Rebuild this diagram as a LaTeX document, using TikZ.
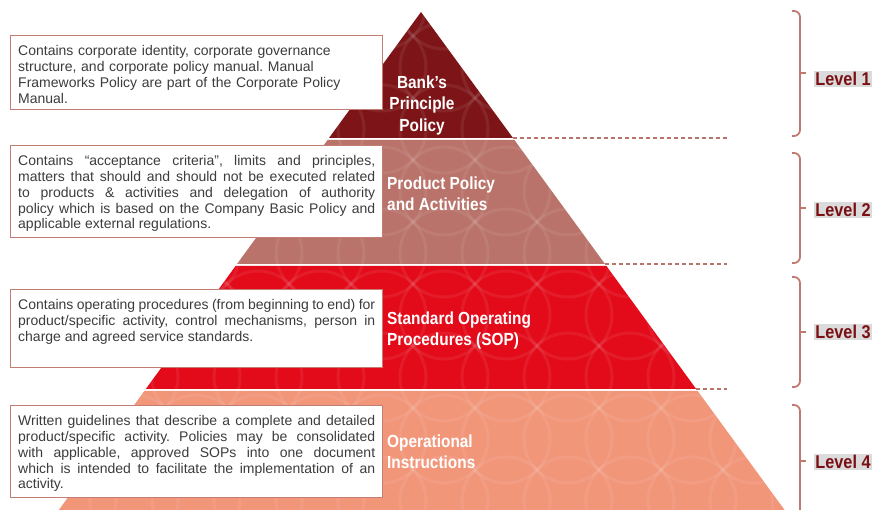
\documentclass[tikz,border=0pt]{standalone}
\usepackage{fontspec}
\setmainfont{Liberation Sans}
\newfontfamily\condfont[FakeStretch=0.88]{Liberation Sans}
\definecolor{lvone}{HTML}{7D1518}
\definecolor{lvtwo}{HTML}{B9736A}
\definecolor{lvthree}{HTML}{E30B1A}
\definecolor{lvfour}{HTML}{F2967A}
\definecolor{boxline}{HTML}{C47D73}
\definecolor{bracec}{HTML}{C07870}
\definecolor{dashc}{HTML}{B8736A}
\definecolor{bodytext}{HTML}{3C3C3C}
\definecolor{lvtext}{HTML}{7A1014}
\frenchspacing
\tikzset{
  descbox/.style={draw=boxline, fill=white, line width=0.9pt, minimum width=372pt,
    minimum height=#1, anchor=north west, inner sep=0pt},
  desctext/.style={anchor=north west, inner sep=0pt, text width=357pt,
    font=\fontsize{14}{15.8}\selectfont, text=bodytext},
  pyrlabel/.style={inner sep=0pt, text=white,
    font=\condfont\bfseries\fontsize{17.5}{21.5}\selectfont},
  lvlabel/.style={inner sep=1.3pt, fill=black!14, text=lvtext,
    font=\condfont\bfseries\fontsize{18.5}{20}\selectfont},
  bracket/.style={draw=bracec, line width=1.8pt, rounded corners=6pt},
  levelsep/.style={draw=dashc, line width=2pt, dash pattern=on 4pt off 3pt},
  patt/.style={draw=white, opacity=0.07, line width=3pt}
}
\begin{document}
\begin{tikzpicture}[x=1pt,y=-1pt]
\useasboundingbox (0,0) rectangle (876,510);
% pyramid corners
\coordinate (apex) at (421,12);
\coordinate (l1bl) at (329,138);   \coordinate (l1br) at (513,138);
\coordinate (l2tl) at (327.6,140); \coordinate (l2tr) at (514.4,140);
\coordinate (l2bl) at (237,264);   \coordinate (l2br) at (605,264);
\coordinate (l3tl) at (235.6,266); \coordinate (l3tr) at (606.4,266);
\coordinate (l3bl) at (145.8,389); \coordinate (l3br) at (696.2,389);
\coordinate (l4tl) at (144.3,391); \coordinate (l4tr) at (697.7,391);
\coordinate (l4bl) at (56,514);    \coordinate (l4br) at (787.5,514);
\coordinate (d1) at (727,138);
\coordinate (d2) at (727,264);
\coordinate (d3) at (727,389);
% layers
\fill[lvone] (apex) -- (l1br) -- (l1bl) -- cycle;
\fill[lvtwo] (l2tl) -- (l2tr) -- (l2br) -- (l2bl) -- cycle;
\fill[lvthree] (l3tl) -- (l3tr) -- (l3br) -- (l3bl) -- cycle;
\fill[lvfour] (l4tl) -- (l4tr) -- (l4br) -- (l4bl) -- cycle;
% ornament
\begin{scope}
\clip (apex) -- (l1br) -- (l1bl) -- cycle
      (l2tl) -- (l2tr) -- (l2br) -- (l2bl) -- cycle
      (l3tl) -- (l3tr) -- (l3br) -- (l3bl) -- cycle
      (l4tl) -- (l4tr) -- (l4br) -- (l4bl) -- cycle;
\foreach \i in {0,...,14}{\foreach \j in {0,...,9}{
  \draw[patt] (\i*62+10,\j*62+5) circle (44pt);}}
\end{scope}
% level separators
\draw[levelsep] (l1br) -- (d1);
\draw[levelsep] (l2br) -- (d2);
\draw[levelsep] (l3br) -- (d3);
% brackets
\coordinate (k1) at (806,73);  \coordinate (k2) at (806,208);
\coordinate (k3) at (806,332); \coordinate (k4) at (806,461);
\draw[bracket] (792,11) -- (800,11) -- (800,136) -- (792,136);
\draw[bracket] (792,153) -- (800,153) -- (800,263) -- (792,263);
\draw[bracket] (792,277) -- (800,277) -- (800,387) -- (792,387);
\draw[bracket] (792,405) -- (800,405) -- (800,520);
\draw[draw=bracec, line width=1.8pt] (800,73) -- (k1);
\draw[draw=bracec, line width=1.8pt] (800,208) -- (k2);
\draw[draw=bracec, line width=1.8pt] (800,332) -- (k3);
\draw[draw=bracec, line width=1.8pt] (800,461) -- (k4);
% level labels
\node[lvlabel] (lv1) at (843,79) {Level 1};
\node[lvlabel] (lv2) at (843,210) {Level 2};
\node[lvlabel] (lv3) at (843,332) {Level 3};
\node[lvlabel] (lv4) at (843,462) {Level 4};
% pyramid labels
\node[pyrlabel, anchor=north, align=center] (p1) at (422,75)
  {\rule{0pt}{13pt}Bank’s\\Principle\\Policy};
\node[pyrlabel, anchor=north west, align=left] (p2) at (387,176)
  {\rule{0pt}{13pt}Product Policy\\and Activities};
\node[pyrlabel, anchor=north west, align=left] (p3) at (387,311)
  {\rule{0pt}{13pt}Standard Operating\\Procedures (SOP)};
\node[pyrlabel, anchor=north west, align=left] (p4) at (387,434)
  {\rule{0pt}{13pt}Operational\\Instructions};
% description boxes
\node[descbox=74pt] (b1) at (10,35) {};
\node[descbox=92pt] (b2) at (10,145) {};
\node[descbox=78pt] (b3) at (10,289) {};
\node[descbox=92pt] (b4) at (10,405) {};
\node[desctext, align=left] (t1) at ([xshift=8pt,yshift=-10pt]b1.north west)
  {\rule{0pt}{10.6pt}Contains corporate identity, corporate governance\\
   structure, and corporate policy manual. Manual\\
   Frameworks Policy are part of the Corporate Policy\\
   Manual.};
\node[desctext, align=justify] (t2) at ([xshift=8pt,yshift=-10pt]b2.north west)
  {\rule{0pt}{10.6pt}Contains “acceptance criteria”, limits and principles,\linebreak
   matters that should and should not be executed related\linebreak
   to products \& activities and delegation of authority\linebreak
   policy which is based on the Company Basic Policy and\linebreak
   applicable external regulations.};
\node[desctext, align=justify] (t3) at ([xshift=8pt,yshift=-10pt]b3.north west)
  {\rule{0pt}{10.6pt}Contains operating procedures (from beginning to end) for\linebreak
   product/specific activity, control mechanisms, person in\linebreak
   charge and agreed service standards.};
\node[desctext, align=justify] (t4) at ([xshift=8pt,yshift=-10pt]b4.north west)
  {\rule{0pt}{10.6pt}Written guidelines that describe a complete and detailed\linebreak
   product/specific activity. Policies may be consolidated\linebreak
   with applicable, approved SOPs into one document\linebreak
   which is intended to facilitate the implementation of an\linebreak
   activity.};
\end{tikzpicture}
\end{document}
